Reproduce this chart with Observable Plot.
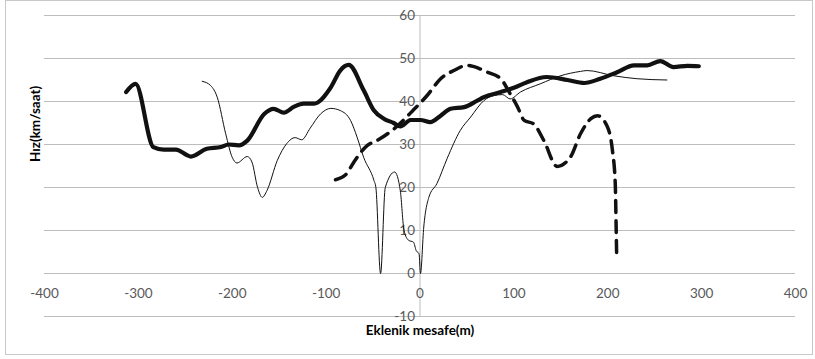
<!DOCTYPE html>
<html>
<head>
<meta charset="utf-8">
<script src="https://cdn.jsdelivr.net/npm/d3@7"></script>
<script src="https://cdn.jsdelivr.net/npm/@observablehq/plot@0.6"></script>
<style>
  body { margin: 0; background: #fff; }
  #wrap { position: relative; width: 815px; height: 359px; }
  #border { position: absolute; left: 5px; top: 0px; width: 808px; height: 355px; border: 1px solid #c8c8c8; box-sizing: border-box; pointer-events: none; }
</style>
</head>
<body>
<div id="wrap"><div id="border"></div></div>
<script>
// Axis ticks
const xTicks = [-400, -300, -200, -100, 0, 100, 200, 300, 400];
const yTicks = [-10, 0, 10, 20, 30, 40, 50, 60];
const xTitle = "Eklenik mesafe(m)";
const yTitle = "Hız(km/saat)";

// Series 1: thick solid line
const thickX = [-313, -303, -284, -273, -260, -244, -227, -212, -204, -193, -184, -166, -156, -145, -134, -124, -113, -95, -85, -76, -60, -49, -38.5, -28, -21, -10, 0.5, 11, 22, 32.5, 47, 61, 68, 86, 100, 114, 135, 157, 175, 192, 210, 228, 242, 256, 270, 285, 297];
const thickY = [42.2, 44.1, 29.4, 28.8, 28.8, 27.2, 29, 29.4, 30, 29.8, 30.9, 37.1, 38.3, 37.4, 38.8, 39.5, 39.5, 43.3, 47.2, 48.5, 42.6, 37.9, 36, 35, 34.2, 35.7, 35.7, 35.2, 36.7, 38.3, 38.7, 40.2, 41, 42.2, 43.2, 44.5, 45.7, 45, 44.3, 45.3, 46.8, 48.4, 48.4, 49.4, 48, 48.3, 48.2];

// Series 2: thin solid line
const thinX = [-232, -223, -216, -207, -200, -195, -184, -179, -173, -168, -163, -152, -142, -133, -126, -117, -106, -95, -85, -74, -67, -60, -49, -47, -42, -37, -27, -21, -17, -12, -7, -4, -1, 0.5, 4, 9.4, 18, 29, 43, 54, 68, 79, 88, 96, 107, 128, 150, 171, 178, 206, 231, 263];
const thinY = [44.7, 43.7, 41, 32.5, 27, 25.7, 27.2, 25.9, 20, 17.7, 19.3, 26.3, 30.2, 31.6, 31.1, 33.8, 37.1, 38.4, 37.9, 35.6, 31.7, 27, 21.6, 20, 0, 20, 23.6, 19.3, 10, 7.7, 7.3, 5.3, 4.6, 0, 10.8, 17.7, 20.9, 26.8, 33.3, 36.4, 40.2, 41.4, 41.6, 40.6, 42.2, 44.1, 46, 47, 47.2, 46, 45.3, 45];

// Series 3: dashed line
const dashX = [-90, -79, -70.5, -56, -46, -28, -8, 7.6, 22, 36, 50, 72, 86, 96, 104, 111, 121, 132, 146, 160, 171, 182, 189, 199, 205, 208, 209, 209.5];
const dashY = [21.8, 23, 25.9, 29.8, 30.9, 33.6, 37.8, 41.4, 45.3, 47.2, 48.4, 46.8, 45.3, 41.8, 38.7, 35.6, 34.8, 30.9, 24.9, 27, 32.5, 36, 36.7, 34.4, 28.6, 20.9, 10, 4];

const toPts = (xs, ys) => xs.map((x, i) => ({x, y: ys[i]}));
const thick = toPts(thickX, thickY);
const thin = toPts(thinX, thinY);
const dash = toPts(dashX, dashY);

const font = "Lato, 'Open Sans', sans-serif";
const grid = "#bdbdbd";

const chart = Plot.plot({
  width: 815,
  height: 359,
  marginLeft: 44,
  marginRight: 20,
  marginTop: 15,
  marginBottom: 43,
  style: {fontFamily: font, background: "transparent", overflow: "visible"},
  x: {domain: [-400, 400], axis: null},
  y: {domain: [-10, 60], axis: null},
  marks: [
    Plot.ruleY(yTicks, {x1: -400, x2: 400, stroke: grid, strokeWidth: 1}),
    Plot.ruleX([0], {y1: -10, y2: 60, stroke: grid, strokeWidth: 1}),
    Plot.text(yTicks, {x: 0, y: d => d, text: d => String(d), textAnchor: "end", dx: -5, fill: "#595959", fontSize: 13.5}),
    Plot.text(xTicks, {x: d => d, y: 0, text: d => String(d), dy: 20, fill: "#595959", fontSize: 13.5}),
    Plot.line(thin, {x: "x", y: "y", stroke: "#111", strokeWidth: 1, curve: "monotone-x"}),
    Plot.line(dash, {x: "x", y: "y", stroke: "#111", strokeWidth: 3.5, strokeDasharray: "12,8", curve: "monotone-x"}),
    Plot.line(thick, {x: "x", y: "y", stroke: "#111", strokeWidth: 4.2, curve: "monotone-x", strokeLinejoin: "round"}),
    Plot.text([yTitle], {frameAnchor: "left", dx: -9, dy: -4, rotate: -90, fontWeight: "bold", fontSize: 13.5, fill: "#000"}),
    Plot.text([xTitle], {frameAnchor: "bottom", dy: 18, fontWeight: "bold", fontSize: 13.5, fill: "#000"})
  ]
});
document.getElementById("wrap").prepend(chart);
</script>
</body>
</html>
